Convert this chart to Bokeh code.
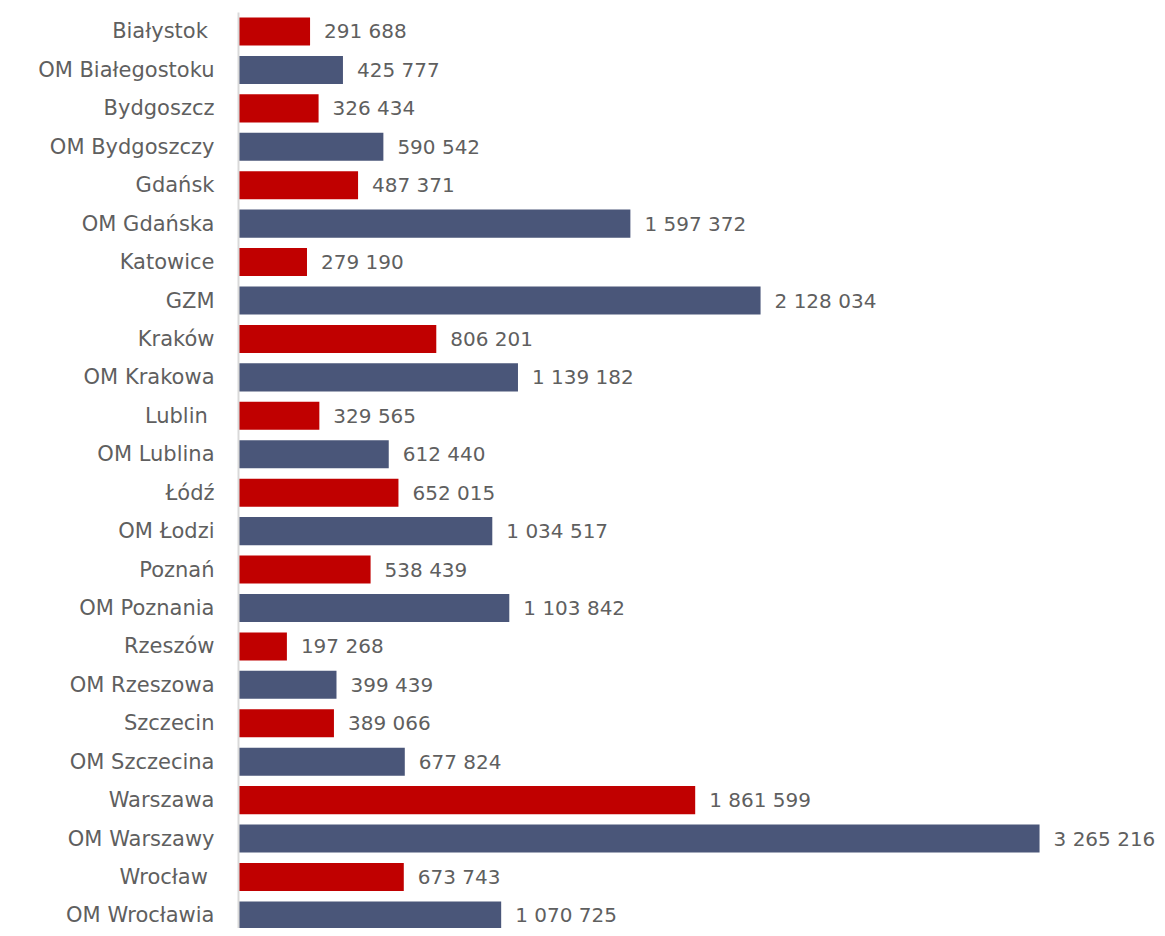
from bokeh.plotting import figure
from bokeh.models import ColumnDataSource, Range1d, FixedTicker
from bokeh.core.properties import value
from bokeh.embed import file_html
from bokeh.resources import INLINE

categories = ["Białystok ", "OM Białegostoku", "Bydgoszcz", "OM Bydgoszczy", "Gdańsk",
              "OM Gdańska", "Katowice", "GZM", "Kraków", "OM Krakowa", "Lublin ",
              "OM Lublina", "Łódź", "OM Łodzi", "Poznań", "OM Poznania", "Rzeszów",
              "OM Rzeszowa", "Szczecin", "OM Szczecina", "Warszawa", "OM Warszawy",
              "Wrocław ", "OM Wrocławia"]
values = [291688, 425777, 326434, 590542, 487371, 1597372, 279190, 2128034, 806201,
          1139182, 329565, 612440, 652015, 1034517, 538439, 1103842, 197268, 399439,
          389066, 677824, 1861599, 3265216, 673743, 1070725]
series_colors = ["#C00000", "#4A5679"]

ys = list(range(len(categories)))
src = ColumnDataSource(dict(
    y=ys,
    v=values,
    label=[f"{v:,}".replace(",", " ") for v in values],
    color=[series_colors[i % 2] for i in ys],
))

FONT = "DejaVu Sans"
TXT = "#5f5f5f"

p = figure(width=1157, height=928, output_backend="svg", toolbar_location=None,
           x_range=Range1d(0, 3746000), y_range=Range1d(23.34, -0.494),
           min_border_left=238, min_border_right=0, min_border_top=12, min_border_bottom=0)
p.outline_line_color = None
p.grid.grid_line_color = None
p.xaxis.visible = False

p.hbar(y="y", right="v", left=0, height=0.73, color="color", source=src, line_color=None)
p.text(x="v", y="y", text="label", source=src, x_offset=14, text_baseline="middle",
       text_align="left", text_font=value(FONT), text_font_size="20px", text_color=TXT)

ya = p.yaxis[0]
ya.ticker = FixedTicker(ticks=ys)
ya.major_label_overrides = {i: c for i, c in enumerate(categories)}
ya.major_tick_line_color = None
ya.minor_tick_line_color = None
ya.axis_line_color = "#D9D9D9"
ya.axis_line_width = 2
ya.major_label_standoff = 18
ya.major_label_text_font = FONT
ya.major_label_text_font_size = "21px"
ya.major_label_text_color = TXT

open("out.html", "w").write(file_html(p, INLINE))
